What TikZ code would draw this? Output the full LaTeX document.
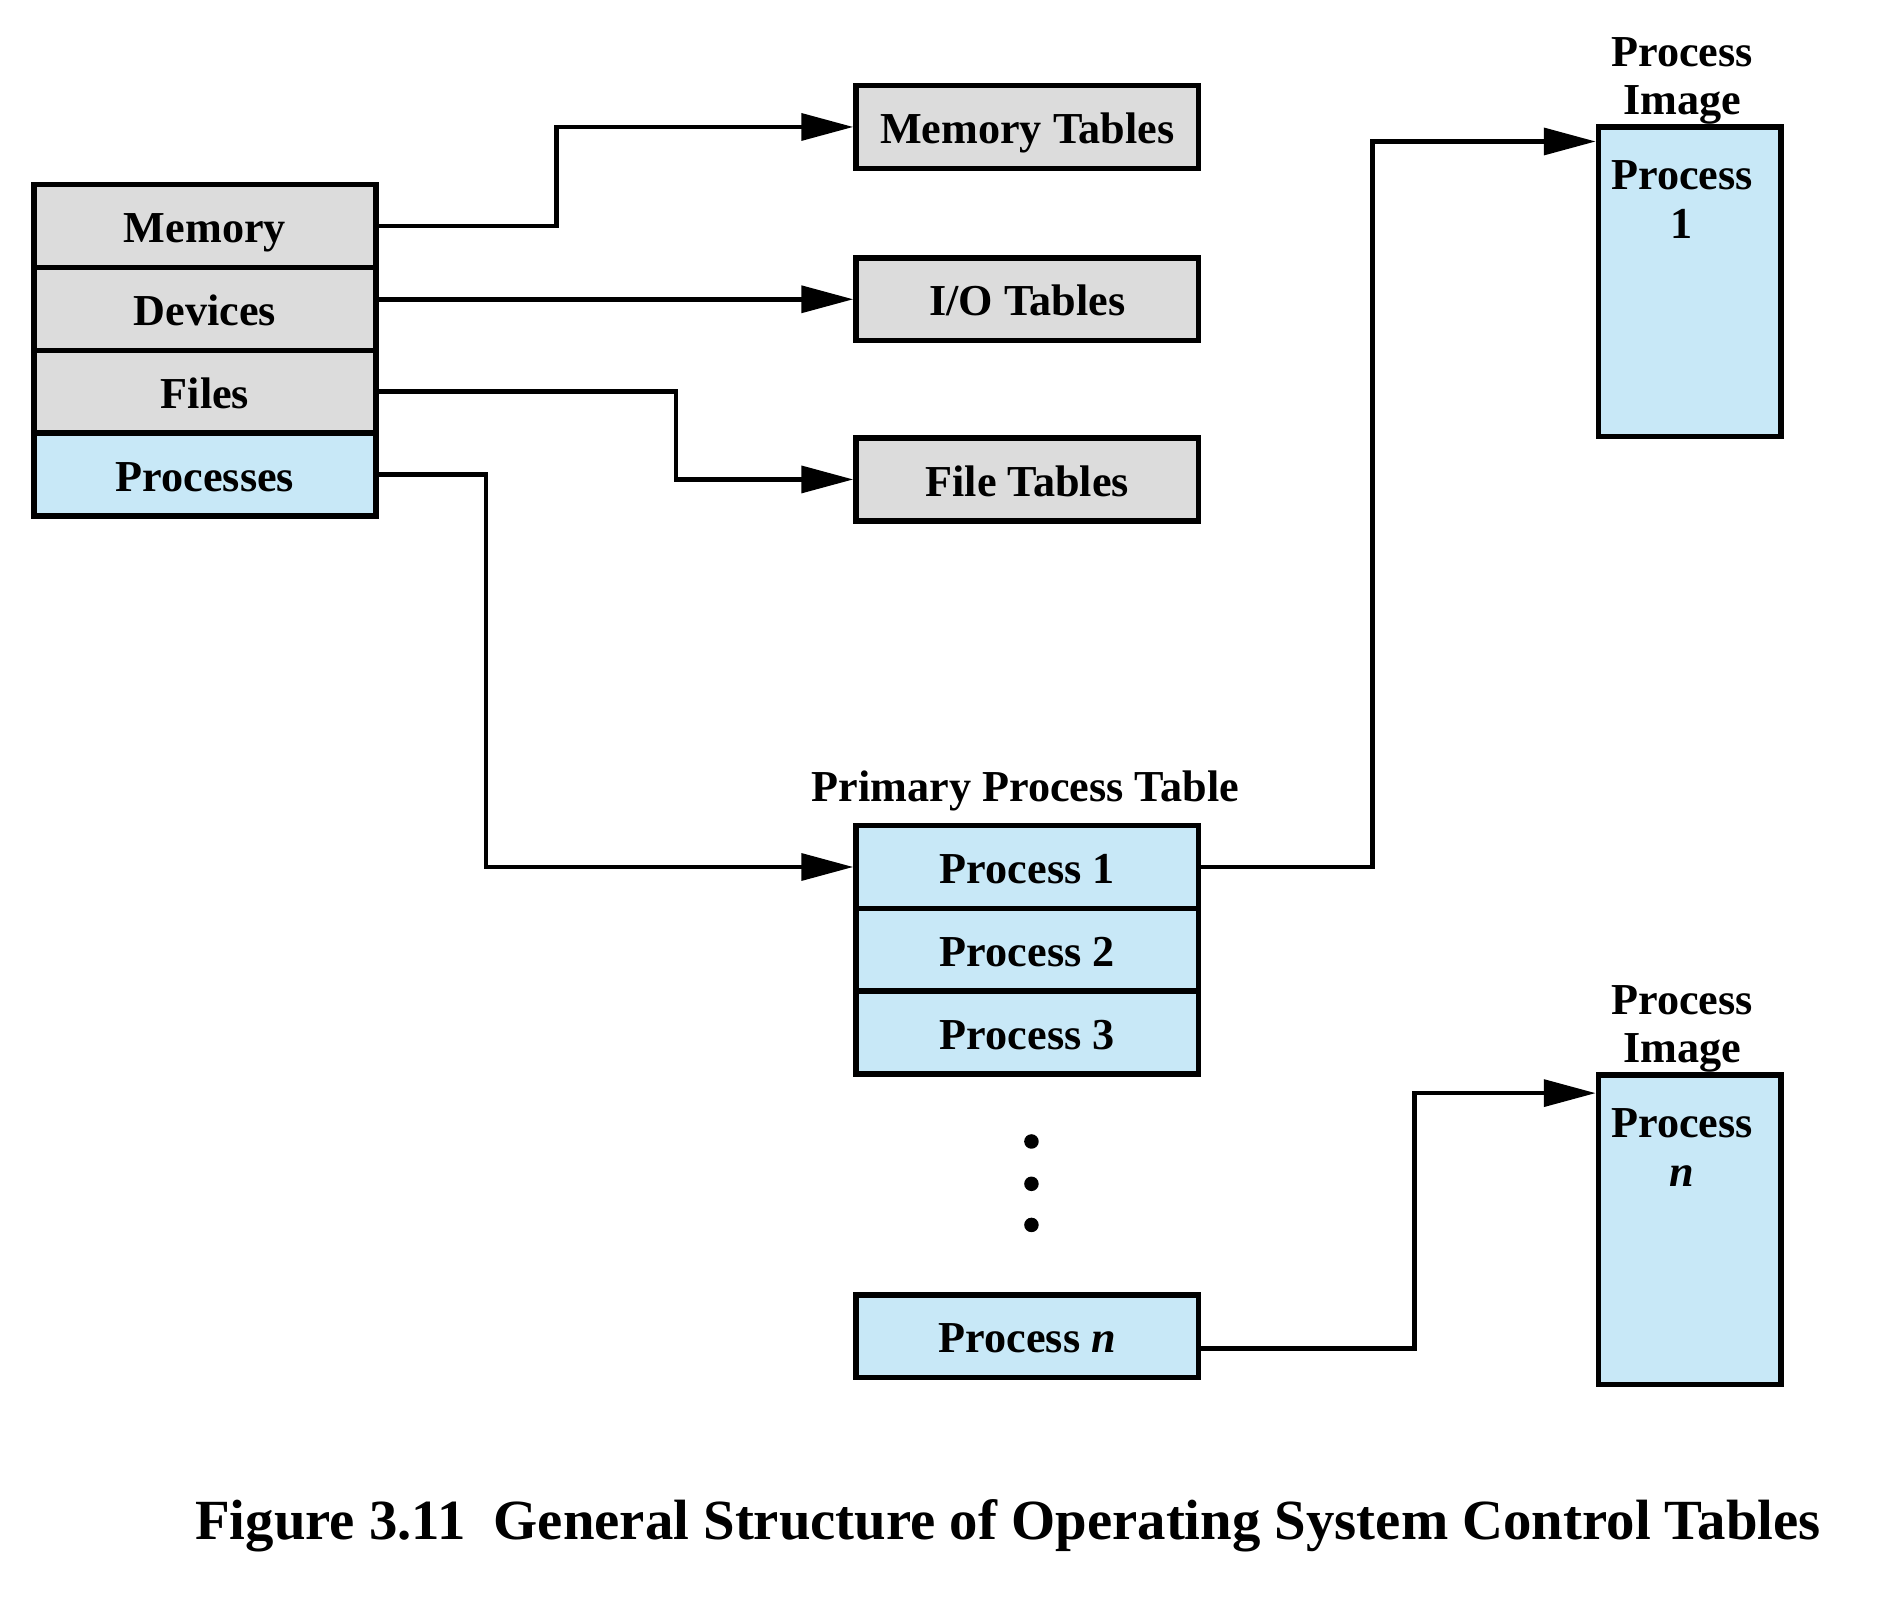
\documentclass[tikz,border=0pt]{standalone}
\usepackage{fontspec}
\setmainfont{Liberation Serif}
\usepackage{xcolor}
\usetikzlibrary{arrows.meta,calc,positioning}

\definecolor{tabgray}{HTML}{DCDCDC}
\definecolor{procblue}{HTML}{C8E8F7}

\begin{document}
\begin{tikzpicture}[
    font=\fontsize{10.4}{11.4}\selectfont\bfseries,
    cell/.style={draw, line width=1.3pt, fill=#1, minimum width=2.83cm, minimum height=0.685cm,
      inner sep=0pt, outer sep=0pt, text height=2ex, text depth=0.3ex},
    cell/.default=tabgray,
    imgbox/.style={draw, line width=1.3pt, fill=procblue, minimum width=1.51cm, minimum height=2.56cm,
      inner sep=0pt, outer sep=0pt},
    txt/.style={align=center, inner sep=0pt},
    link/.style={line width=1.1pt, shorten >=0.65pt, -{Triangle[length=4.3mm,width=2.2mm]}}
  ]
  \useasboundingbox (0,0) rectangle (15.68,-13.25);

  \node[cell] (memory) at (1.695,-1.87) {Memory};
  \node[cell, below=0pt of memory] (devices) {Devices};
  \node[cell, below=0pt of devices] (files) {Files};
  \node[cell=procblue, below=0pt of files] (processes) {Processes};

  \node[cell] (memtab) at (8.495,-1.05) {Memory Tables};
  \node[cell] (iotab) at (8.495,-2.475) {I/O Tables};
  \node[cell] (filetab) at (8.495,-3.965) {File Tables};

  \node[txt] (ptlabel) at (8.48,-6.545) {Primary Process Table};
  \node[cell=procblue] (proc1) at (8.495,-7.17) {Process 1};
  \node[cell=procblue, below=0pt of proc1] (proc2) {Process 2};
  \node[cell=procblue, below=0pt of proc2] (proc3) {Process 3};
  \node[cell=procblue] (procn) at (8.495,-11.05) {Process \textit{n}};

  \fill (8.53,-9.44) circle (0.6mm);
  \fill (8.53,-9.79) circle (0.6mm);
  \fill (8.53,-10.13) circle (0.6mm);

  \node[imgbox] (img1) at (13.975,-2.33) {};
  \node[txt] (img1top) at (13.91,-0.67) {Process\\Image};
  \node[txt] (img1txt) at (13.91,-1.65) {Process\\1};

  \node[imgbox] (imgn) at (13.975,-10.17) {};
  \node[txt] (imgntop) at (13.91,-8.51) {Process\\Image};
  \node[txt] (imgntxt) at (13.91,-9.49) {Process\\\textit{n}};

  \coordinate (img1in) at ($(img1.north west)+(0,-0.12)$);
  \coordinate (imgnin) at ($(imgn.north west)+(0,-0.15)$);
  \coordinate (procnout) at ($(procn.east)+(0,-0.1)$);

  \draw[link] (memory.east) -- ++(1.49,0) |- (memtab.west);
  \draw[link] (devices.east |- iotab.west) -- (iotab.west);
  \draw[link] (files.east) -- ++(2.48,0) |- (filetab.west);
  \draw[link] (processes.east) -- ++(0.91,0) |- (proc1.west);
  \draw[link] (proc1.east) -- ++(1.44,0) |- (img1in);
  \draw[link] (procnout) -- ++(1.79,0) |- (imgnin);

  \node[txt, font=\fontsize{13.36}{15}\selectfont\bfseries] (caption) at (8.335,-12.62)
    {Figure 3.11\enspace General Structure of Operating System Control Tables};
\end{tikzpicture}
\end{document}
